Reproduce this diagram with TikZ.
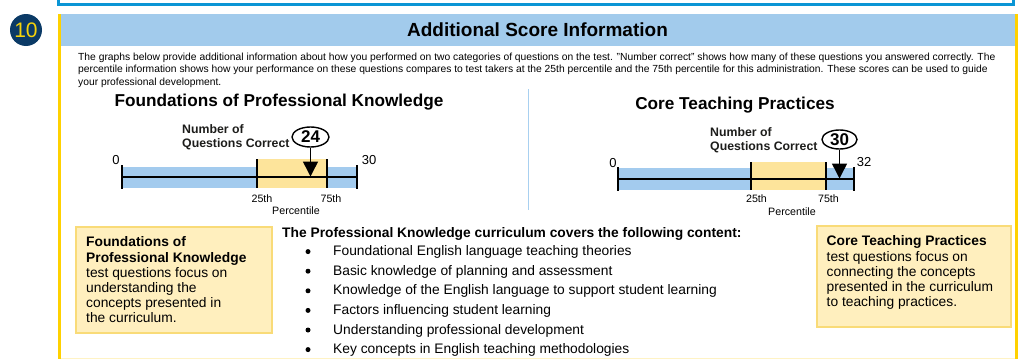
\documentclass[tikz,border=0pt]{standalone}
\usepackage{fontspec}
\setmainfont{Liberation Sans}
\usetikzlibrary{arrows.meta,positioning,shapes.geometric}

\definecolor{topblue}{HTML}{0A95D5}
\definecolor{headblue}{HTML}{A2CBEC}
\definecolor{badgenavy}{HTML}{0B3A66}
\definecolor{badgeyellow}{HTML}{F6D30A}
\definecolor{frameyellow}{HTML}{FFD100}
\definecolor{framelight}{HTML}{FFF3C4}
\definecolor{barblue}{HTML}{A3CBEE}
\definecolor{bandyellow}{HTML}{FDE49B}
\definecolor{boxfill}{HTML}{FFEFBE}
\definecolor{boxline}{HTML}{F9DB78}
\definecolor{dividerblue}{HTML}{A8D0F0}
\definecolor{countgray}{HTML}{1D1D1B}

\begin{document}
\begin{tikzpicture}[
    x=1pt, y=-1pt,
    badge/.style={circle, fill=badgenavy, text=badgeyellow, minimum size=32pt, inner sep=0pt, font=\fontsize{21}{21}\selectfont},
    bodytext/.style={font=\fontsize{10.3}{12.5}\selectfont, align=left, inner sep=0pt},
    heading/.style={font=\bfseries\fontsize{17.2}{20}\selectfont, inner sep=0pt, anchor=base},
    scalelbl/.style={font=\fontsize{13}{13}\selectfont, inner sep=0pt},
    pctlbl/.style={font=\fontsize{10.7}{11}\selectfont, inner sep=0pt},
    countlbl/.style={font=\bfseries\fontsize{12.3}{14}\selectfont, align=left, inner sep=0pt, text=countgray, anchor=west},
    scorebubble/.style={ellipse, draw, line width=1.4pt, inner sep=0pt, font=\bfseries\fontsize{17}{17}\selectfont},
    barline/.style={line width=2.5pt},
    barmark/.style={line width=2pt},
    pointer/.style={-{Triangle[length=15pt,width=15pt]}, line width=1.5pt},
    infobox/.style={draw=boxline, fill=boxfill, line width=1.2pt, inner sep=0pt, outer sep=0pt, anchor=north west},
    boxtext/.style={font=\fontsize{13.8}{15.2}\selectfont, align=left, inner sep=0pt, anchor=north west},
    listtext/.style={font=\fontsize{13.8}{15}\selectfont, inner sep=0pt, anchor=base west},
    listdot/.style={circle, fill, inner sep=0pt, minimum size=5pt},
]
\useasboundingbox (0,0) rectangle (1021,359);

\draw[topblue, line width=3pt] (58.5,-2) -- (58.5,4.5) -- (1013,4.5) -- (1013,-2);
\fill[headblue] (61,14) rectangle (1015,46);
\draw[frameyellow, line width=3pt] (59.5,14) -- (59.5,361);
\draw[frameyellow, line width=3pt] (1016.5,14) -- (1016.5,361);
\draw[framelight, line width=1pt] (61,358) -- (1015,358);

\node[badge] (secnum) at (26,30) {10};
\node[font=\bfseries\fontsize{19}{22}\selectfont, inner sep=0pt, anchor=base] (title) at (537.5,36) {Additional Score Information};

\node[bodytext, anchor=north west] (intro) at (78,52.5) {The graphs below provide additional information about how you performed on two categories of questions on the test. "Number correct" shows how many of these questions you answered correctly. The\\percentile information shows how your performance on these questions compares to test takers at the 25th percentile and the 75th percentile for this administration. These scores can be used to guide\\your professional development.};

\node[heading] (fpkhead) at (279,106.5) {Foundations of Professional Knowledge};
\node[heading] (ctphead) at (735,109.5) {Core Teaching Practices};
\draw[dividerblue, line width=1.2pt] (528.5,89) -- (528.5,210);

\fill[barblue] (122,167) rectangle (357,188);
\fill[bandyellow] (257,159) rectangle (327,188);
\draw[barline] (122,177) -- (357,177);
\draw[barmark] (122,165) -- (122,189) (357,165) -- (357,189) (257,159) -- (257,188) (327,159) -- (327,188);
\node[scalelbl] (fpkmin) at (116,160) {0};
\node[scalelbl] (fpkmax) at (369,160) {30};
\node[pctlbl] (fpklow) at (262,199) {25th};
\node[pctlbl] (fpkhigh) at (331,199) {75th};
\node[pctlbl] (fpkpct) at (296,211) {Percentile};
\node[countlbl] (fpkcount) at (182,137) {Number of\\Questions Correct};
\node[scorebubble, minimum width=37pt, minimum height=20pt] (fpkscore) at (310.5,137) {24};
\coordinate (fpkmark) at (310.5,176.5);
\draw[pointer] (fpkscore) -- (fpkmark);

\fill[barblue] (618,168) rectangle (854,190);
\fill[bandyellow] (751,162) rectangle (826,190);
\draw[barline] (618,179) -- (854,179);
\draw[barmark] (618,167) -- (618,191) (854,167) -- (854,191) (751,162) -- (751,190) (826,162) -- (826,190);
\node[scalelbl] (ctpmin) at (613,163) {0};
\node[scalelbl] (ctpmax) at (864,162) {32};
\node[pctlbl] (ctplow) at (756.5,199) {25th};
\node[pctlbl] (ctphigh) at (828.5,199) {75th};
\node[pctlbl] (ctppct) at (792,212) {Percentile};
\node[countlbl] (ctpcount) at (710,140) {Number of\\Questions Correct};
\node[scorebubble, minimum width=35pt, minimum height=19pt] (ctpscore) at (839.5,139.5) {30};
\coordinate (ctpmark) at (839.5,178.5);
\draw[pointer] (ctpscore) -- (ctpmark);

\node[infobox, minimum width=196pt, minimum height=106pt] (fpkbox) at (76,227) {};
\node[boxtext] (fpktext) at ([xshift=10pt,yshift=-9.6pt]fpkbox.north west) {\textbf{Foundations of}\\\textbf{Professional Knowledge}\\test questions focus on\\understanding the\\concepts presented in\\the curriculum.};

\node[infobox, minimum width=194pt, minimum height=101pt] (ctpbox) at (817,226) {};
\node[boxtext] (ctptext) at ([xshift=9.5pt,yshift=-9.6pt]ctpbox.north west) {\textbf{Core Teaching Practices}\\test questions focus on\\connecting the concepts\\presented in the curriculum\\to teaching practices.};

\node[listtext, font=\bfseries\fontsize{13.8}{15}\selectfont] (listhead) at (282,237.6) {The Professional Knowledge curriculum covers the following content:};
\foreach \topic [count=\i] in {Foundational English language teaching theories, Basic knowledge of planning and assessment, Knowledge of the English language to support student learning, Factors influencing student learning, Understanding professional development, Key concepts in English teaching methodologies} {
  \node[listdot] (dot\i) at (308,{251.6+19.6*(\i-1)}) {};
  \node[listtext] (topic\i) at (333,{255.6+19.6*(\i-1)}) {\topic};
}
\end{tikzpicture}
\end{document}
